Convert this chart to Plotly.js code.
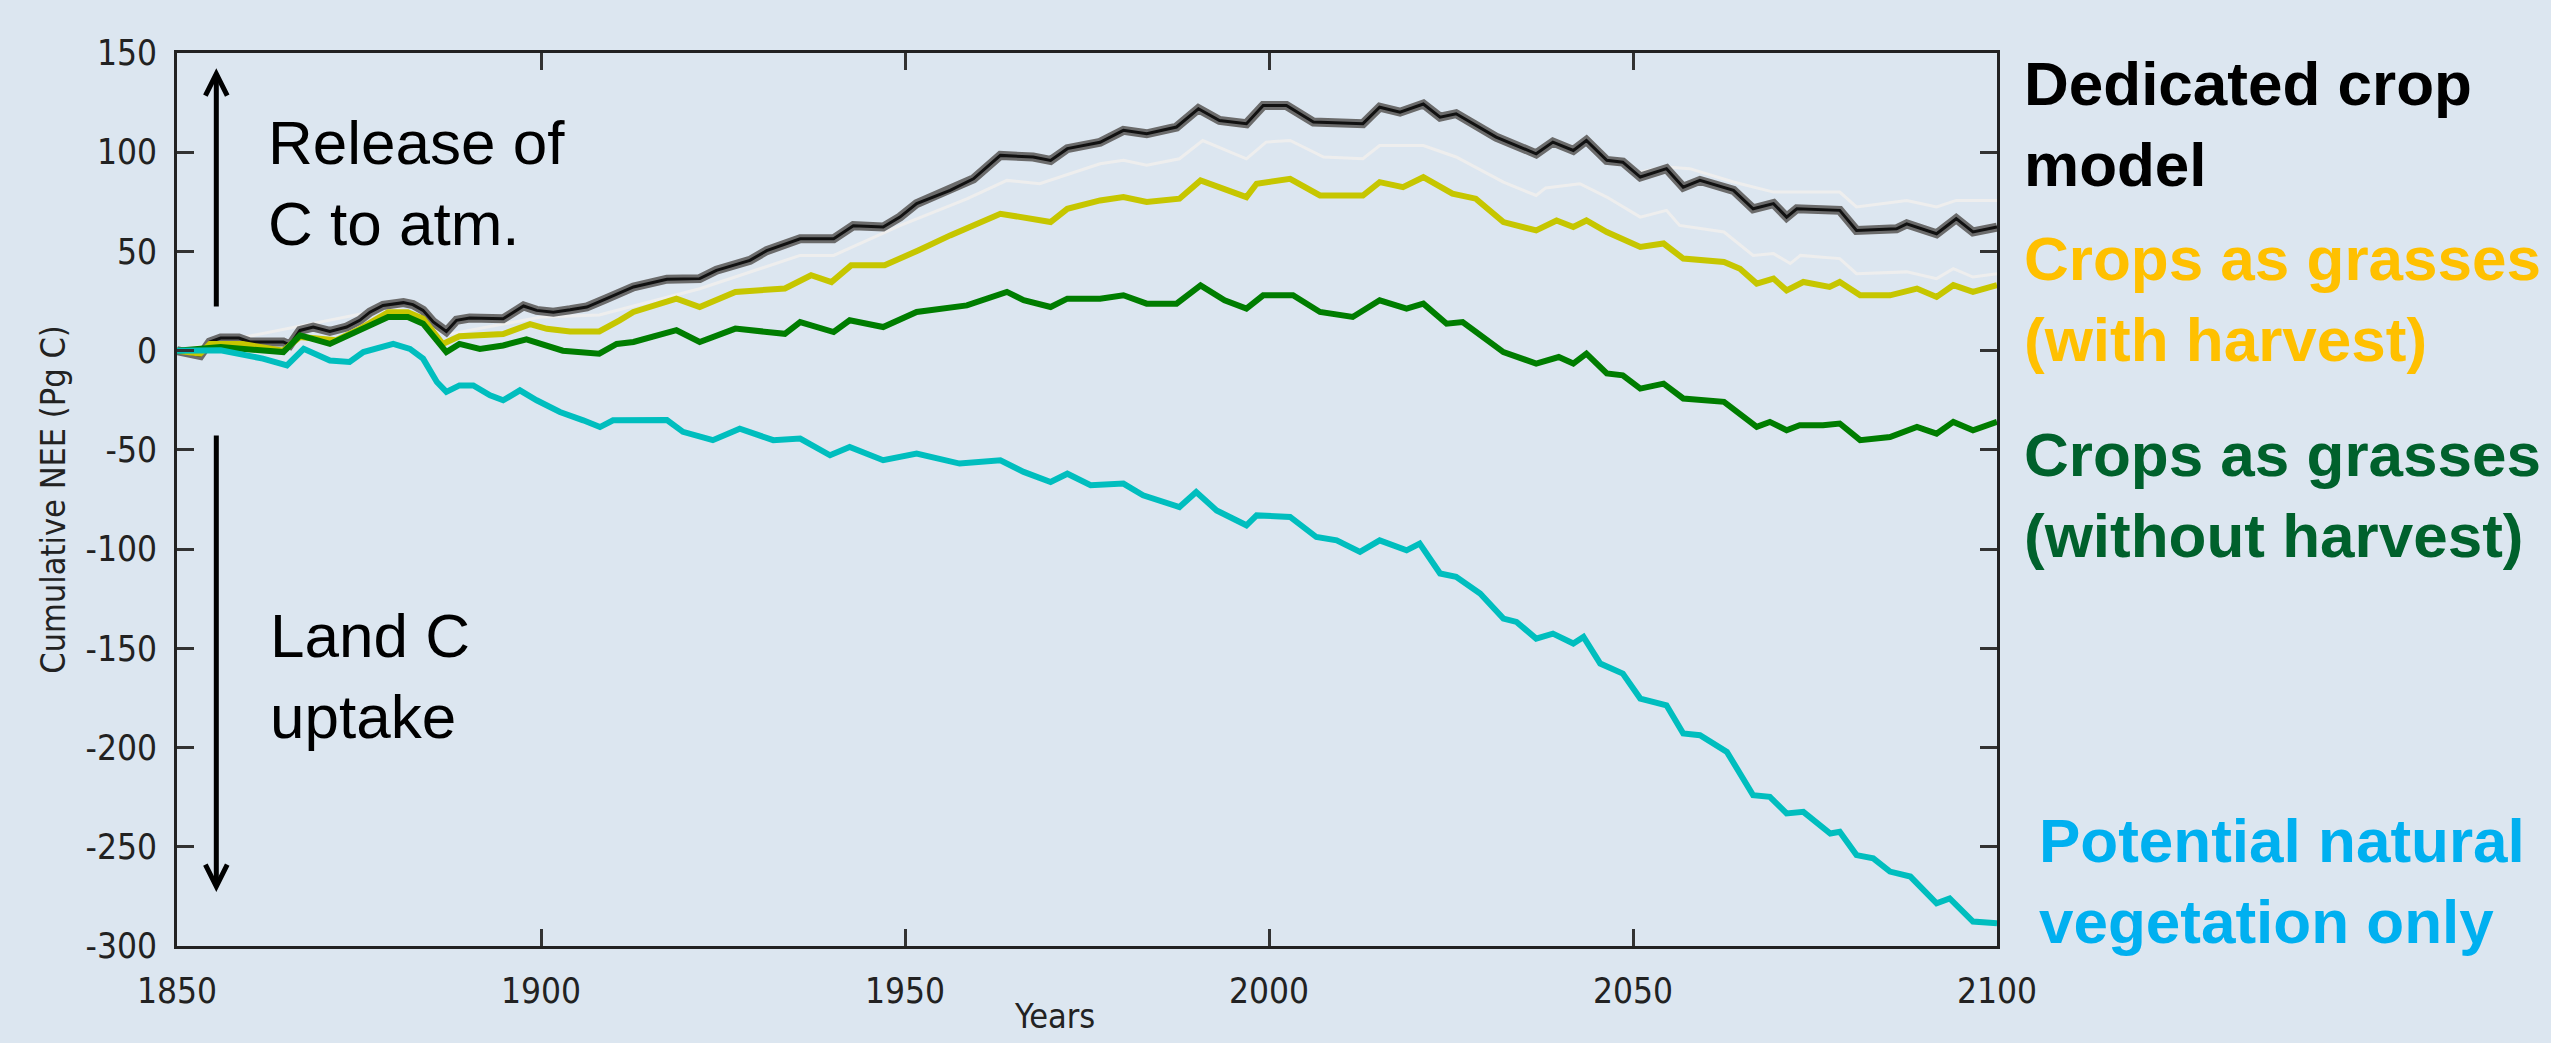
<!DOCTYPE html>
<html>
<head>
<meta charset="utf-8">
<script src="https://cdn.plot.ly/plotly-3.0.1.min.js"></script>
<style>
  html, body { margin: 0; padding: 0; background: #dce6f0; }
  #chart { width: 2551px; height: 1043px; }
</style>
</head>
<body>
<div id="chart"></div>
<script>
// ---------------- data ----------------
const cropYears = [1850,1853.2,1854.5,1856,1858.5,1860,1864.6,1865.5,1866.9,1868.7,1871,1873.3,1875.1,1876.5,1878.3,1881.1,1882.4,1883.8,1885.2,1887,1888.4,1890.2,1894.8,1896.2,1897.6,1899.4,1901.7,1904,1906.3,1909,1912.7,1917.3,1921.8,1924.1,1928.7,1931,1935.6,1940.2,1942.9,1947,1949.3,1951.6,1956.2,1959.4,1963.1,1967.6,1970,1972.3,1976.8,1980,1983.2,1987.3,1990.3,1993.2,1996.9,1999.2,2002.4,2006.1,2012.9,2015.2,2018,2021.2,2023.5,2025.7,2031.2,2036.7,2039,2041.8,2043.6,2046.4,2048.6,2051,2054.6,2056.9,2059.2,2063.8,2066.5,2069.3,2071.1,2072.5,2078.4,2080.7,2086.2,2087.6,2091.7,2094.4,2096.7,2100];
const cropNEE = [0,-2.4,4.4,6.4,6.4,4.4,4.4,2.8,10.2,11.9,9.7,11.9,15.3,19.4,22.8,24.2,23.2,20.3,14.5,9.7,15.3,16.4,16.1,19.4,22.5,20.3,19.4,20.6,22.0,26.2,32.1,36.0,36.3,40.5,45.5,50.4,56.4,56.4,63.0,62.3,67.3,74.1,80.8,86.6,98.4,97.6,95.9,101.8,105.0,111.0,109.3,112.7,121.9,116.0,114.4,123.5,123.5,115.2,114.4,122.7,120.2,124.3,117.7,119.4,107.6,99.2,105.1,100.9,105.9,95.9,95.0,87.5,91.7,82.4,85.8,80.8,71.5,74.1,67.3,71.5,70.7,60.6,61.4,63.9,58.9,66.5,59.8,62.3];

const cropHighYears = [2046.4,2051,2054.6,2057.8,2063.8,2069.3,2078.4,2080.7,2087.6,2091.7,2094.4,2100];
const cropHighNEE   = [96.5,90,92.5,91.7,85,79.9,79.9,72.4,75.7,72.4,75.7,75.7];

const cropLowYears = [1850,1880,1887,1900,1908,1921.8,1935.6,1940.2,1949.3,1958.5,1964,1968.5,1976.8,1980,1983.2,1987.7,1990.9,1996.9,1999.6,2002.9,2007.5,2012.9,2015.2,2021.2,2025.7,2032.2,2036.7,2038,2042.7,2046.4,2051,2054.6,2056.4,2062.5,2066.5,2069.3,2071.6,2073,2078.4,2080.7,2087.6,2091.7,2094,2096.7,2100];
const cropLowNEE   = [0,22,8,17,18,31.2,48,48,63,76.5,85.8,84.1,94.2,95.9,93.4,96.7,105.9,96.7,105.1,105.9,97.6,96.7,103.4,103.4,97.6,84.9,78.2,82,84.1,77.4,67.3,70.7,63.1,59.8,48,48.9,43.9,48,46.4,38.8,39.7,36.3,41.3,37.1,38.8];

const harvYears = [1850,1853.2,1854.5,1859,1864.6,1866.9,1871.8,1875.1,1879,1881.7,1883.8,1886.5,1888.8,1894.8,1898.5,1900.8,1904,1908,1910.8,1912.7,1918.6,1921.8,1926.7,1933.5,1937.1,1939.9,1942.6,1947.2,1951.8,1956.2,1963.1,1967.6,1970,1972.3,1976.8,1980,1983.2,1987.7,1990.6,1996.9,1998.3,2002.9,2007,2012.9,2015.2,2018.4,2021.2,2025.2,2028.4,2032.2,2036.7,2039.5,2041.8,2043.6,2046.4,2051,2054.2,2056.9,2062.5,2064.7,2067,2069.3,2071.1,2073.4,2077,2078.4,2081.2,2085.3,2089,2091.7,2094,2096.7,2100];
const harvNEE   = [0,-1.5,3.3,3.3,0,6.9,5.2,11.0,19.4,19.4,16.1,3.4,7.3,8.4,13.4,11.0,9.7,9.7,15.3,19.5,26.2,22.0,29.6,31.3,38.0,34.6,43.0,43.0,50.5,58.1,69.0,66.5,64.8,71.5,75.7,77.4,74.9,76.6,85.8,77.4,84.1,86.6,78.2,78.2,84.9,82.4,87.4,79.1,76.6,64.8,60.6,65.6,62.3,65.6,59.8,52.3,54.0,46.4,44.7,41.3,33.8,36.3,30.4,34.6,32.1,34.6,27.9,27.9,31.3,27.1,33.0,29.6,33.0];

const noHarvYears = [1850,1856,1864.6,1866.9,1871,1874.6,1879,1881.7,1883.8,1887,1888.8,1891.6,1894.8,1898,1903,1908,1910.4,1912.7,1918.6,1921.8,1926.7,1933.5,1935.6,1940.2,1942.4,1947,1951.6,1958.5,1964,1966.3,1970,1972.3,1976.8,1980,1983.2,1987.3,1990.6,1993.9,1996.9,1999.2,2003.3,2007,2011.5,2015.2,2018.9,2021.2,2024.4,2026.6,2032.2,2036.7,2039.8,2041.8,2043.6,2046.4,2048.6,2051,2054.2,2056.9,2062.5,2067,2068.8,2071.1,2072.9,2076.1,2078.4,2081.2,2085.3,2089,2091.7,2094,2096.7,2100];
const noHarvNEE   = [0,1.8,-0.7,7.7,3.4,9.4,17.0,17.0,13.6,-0.7,3.4,0.9,2.6,5.7,0,-1.5,3.4,4.4,10.3,4.4,11.1,8.5,14.4,9.4,15.3,11.9,19.5,22.8,29.6,25.4,22.0,26.2,26.2,27.9,23.7,23.7,32.9,25.4,21.2,27.9,27.9,19.5,17.0,25.4,21.2,23.7,13.6,14.4,-0.7,-6.5,-3.2,-6.5,-1.5,-11.5,-12.4,-19.1,-16.6,-24.1,-25.8,-38.4,-35.9,-40.1,-37.6,-37.6,-36.7,-45.1,-43.5,-38.4,-41.8,-35.9,-40.1,-35.9];

const pnvYears = [1850,1856,1861.8,1865.1,1867.4,1871,1873.7,1875.6,1879.7,1882,1883.8,1885.7,1887,1888.8,1890.7,1893,1894.8,1897.1,1899.4,1902.6,1905.8,1908.1,1909.9,1912.7,1917.3,1919.5,1923.6,1927.3,1931.9,1935.6,1939.7,1942.4,1947,1951.6,1957.5,1963.1,1966.3,1970,1972.3,1975.5,1980,1982.7,1987.7,1990,1992.8,1996.9,1998.3,2002.9,2006.5,2009.3,2012.5,2015.2,2018.9,2020.7,2023.5,2025.7,2029,2032.2,2034,2036.7,2039,2041.8,2043.2,2045.5,2048.6,2051,2054.6,2056.9,2059.2,2062.9,2066.5,2068.8,2071.1,2073.4,2077.1,2078.4,2080.7,2083,2085.3,2088.1,2091.7,2093.5,2096.7,2100];
const pnvNEE   = [0,0.2,-4,-7.4,0.9,-5,-5.7,-0.7,3.4,0.9,-4,-15.8,-20.8,-17.5,-17.5,-22.5,-25,-20,-25,-30.9,-35.1,-38.5,-35.1,-35,-35,-40.9,-45.1,-39.3,-45.1,-44.3,-52.7,-48.5,-55.2,-51.9,-56.9,-55.2,-61.1,-66.2,-62.0,-67.8,-67.0,-72.9,-78.8,-71.2,-80.5,-88.0,-83.0,-83.8,-93.9,-95.6,-101.4,-95.6,-100.6,-97.2,-112.3,-114.0,-122.4,-135.0,-136.7,-145.1,-142.6,-147.6,-144.3,-157.7,-162.7,-175.3,-178.7,-192.9,-193.8,-202.2,-224.0,-224.8,-233.2,-232.4,-243.3,-242.4,-254.2,-255.8,-262.5,-265.0,-278.5,-276.0,-287.7,-288.5];

const xTickVals  = [1850, 1900, 1950, 2000, 2050, 2100];
const xTickText  = ["1850", "1900", "1950", "2000", "2050", "2100"];
const yTickVals  = [150, 100, 50, 0, -50, -100, -150, -200, -250, -300];
const yTickText  = ["150", "100", "50", "0", "-50", "-100", "-150", "-200", "-250", "-300"];

const xTitle = "Years";
const yTitle = "Cumulative NEE (Pg C)";
const labelCrop    = "Dedicated crop<br>model";
const labelHarv    = "Crops as grasses<br>(with harvest)";
const labelNoHarv  = "Crops as grasses<br>(without harvest)";
const labelPNV     = "Potential natural<br>vegetation only";
const labelRelease = "Release of<br>C to atm.";
const labelUptake  = "Land C<br>uptake";

// ---------------- styling ----------------
const BG = "#dce6f0";
const NARROW = "'Liberation Sans Narrow', 'Arial Narrow', 'DejaVu Sans Condensed', sans-serif";
const ARIAL = "'Liberation Sans', Arial, sans-serif";

const traces = [
  {x: cropHighYears, y: cropHighNEE, mode: "lines", line: {color: "#eeeeee", width: 3}, name: "crop ensemble (high)"},
  {x: cropLowYears,  y: cropLowNEE,  mode: "lines", line: {color: "#eeeeee", width: 3}, name: "crop ensemble (low)"},
  {x: cropYears, y: cropNEE, mode: "lines", line: {color: "#6b6b6b", width: 9}, name: "Dedicated crop model (band)"},
  {x: cropYears, y: cropNEE, mode: "lines", line: {color: "#111111", width: 3}, name: "Dedicated crop model"},
  {x: harvYears, y: harvNEE, mode: "lines", line: {color: "#c6c600", width: 6}, name: "Crops as grasses (with harvest)"},
  {x: noHarvYears, y: noHarvNEE, mode: "lines", line: {color: "#007d00", width: 6}, name: "Crops as grasses (without harvest)"},
  {x: pnvYears, y: pnvNEE, mode: "lines", line: {color: "#00bebe", width: 6}, name: "Potential natural vegetation only"}
];

const arrowX = 1855.4;
const shapes = [
  {type: "line", xref: "x", yref: "y", x0: arrowX, x1: arrowX, y0: 22.2, y1: 139.0, line: {color: "#000", width: 5}},
  {type: "path", xref: "x", yref: "y", path: `M ${arrowX-1.5},128.5 L ${arrowX},139.5 L ${arrowX+1.5},128.5`, line: {color: "#000", width: 5}},
  {type: "line", xref: "x", yref: "y", x0: arrowX, x1: arrowX, y0: -42.8, y1: -269.5, line: {color: "#000", width: 5}},
  {type: "path", xref: "x", yref: "y", path: `M ${arrowX-1.5},-259 L ${arrowX},-270 L ${arrowX+1.5},-259`, line: {color: "#000", width: 5}}
];

function sideLabel(text, x, y, color) {
  return {text: text, xref: "paper", yref: "paper", x: x, y: y, xanchor: "left", yanchor: "middle",
          align: "left", showarrow: false, font: {family: ARIAL, size: 62, color: color}};
}
function plotLabel(text, x, y) {
  return {text: text, xref: "paper", yref: "paper", x: x, y: y, xanchor: "left", yanchor: "middle",
          align: "left", showarrow: false, font: {family: ARIAL, size: 62, color: "#000"}};
}
function bold(t) { return "<b>" + t.split("<br>").join("</b><br><b>") + "</b>"; }

const annotations = [
  sideLabel(bold(labelCrop), 1.0137, 0.9205, "#000000"),
  sideLabel(bold(labelHarv), 1.0137, 0.724, "#ffc000"),
  sideLabel(bold(labelNoHarv), 1.0137, 0.5045, "#00612c"),
  sideLabel(bold(labelPNV), 1.022, 0.0733, "#00b0f0"),
  plotLabel(labelRelease, 0.0489, 0.8544),
  plotLabel(labelUptake, 0.050, 0.3018),
  {text: xTitle, xref: "paper", yref: "paper", x: 0.482, y: -0.1035, xanchor: "center", yanchor: "bottom",
   showarrow: false, font: {family: NARROW, size: 34, color: "#222"}}
];

const axisCommon = {
  showline: true, mirror: "ticks", linecolor: "#222", linewidth: 3,
  ticks: "inside", ticklen: 17, tickwidth: 3, tickcolor: "#333",
  showgrid: false, zeroline: false,
  tickfont: {family: NARROW, size: 35, color: "#222"}
};

const layout = {
  width: 2551, height: 1043,
  paper_bgcolor: BG, plot_bgcolor: BG,
  showlegend: false,
  margin: {l: 177, r: 554, t: 53, b: 97, autoexpand: false},
  xaxis: Object.assign({}, axisCommon, {
    range: [1850, 2100], tickmode: "array", tickvals: xTickVals, ticktext: xTickText,
    ticklabelstandoff: 12
  }),
  yaxis: Object.assign({}, axisCommon, {
    range: [-300, 150], tickmode: "array", tickvals: yTickVals, ticktext: yTickText,
    ticklabelstandoff: 10,
    title: {text: yTitle, font: {family: NARROW, size: 34, color: "#222"}, standoff: 10}
  }),
  shapes: shapes,
  annotations: annotations
};

Plotly.newPlot("chart", traces, layout, {staticPlot: true, displayModeBar: false});
</script>
</body>
</html>
